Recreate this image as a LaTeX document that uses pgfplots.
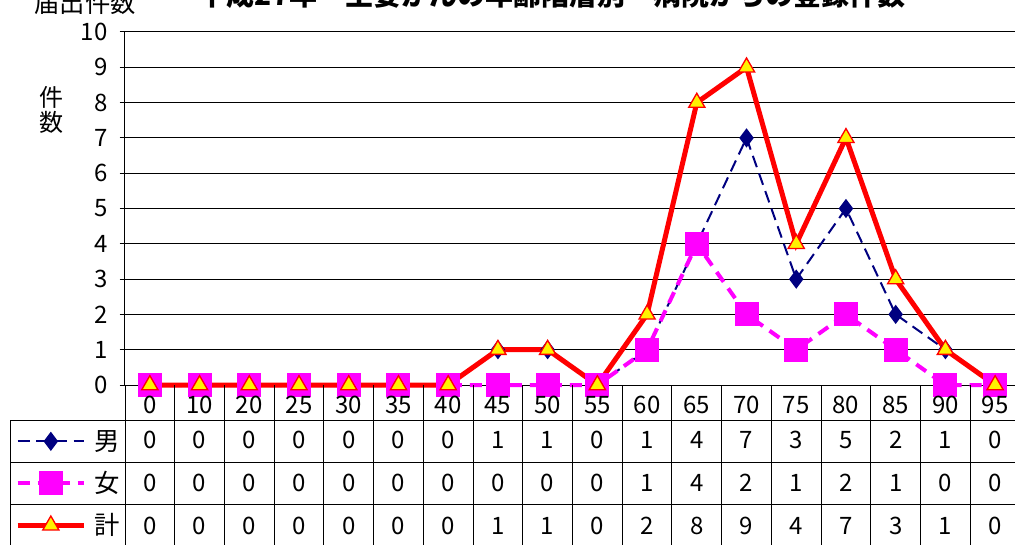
\documentclass[border=0pt]{standalone}
\usepackage{fontspec}
\usepackage{pgfplots}
\pgfplotsset{compat=1.18}
\usepackage{pgfplotstable}
\setmainfont{Noto Sans CJK JP}
\definecolor{navy}{RGB}{0,0,128}
\definecolor{mag}{RGB}{255,0,255}

\pgfplotstableread{
x lab m f t
0 0 0 0 0
1 10 0 0 0
2 20 0 0 0
3 25 0 0 0
4 30 0 0 0
5 35 0 0 0
6 40 0 0 0
7 45 1 0 1
8 50 1 0 1
9 55 0 0 0
10 60 1 1 2
11 65 4 4 8
12 70 7 2 9
13 75 3 1 4
14 80 5 2 7
15 85 2 1 3
16 90 1 0 1
17 95 0 0 0
}\data

\begin{document}
\begin{tikzpicture}
\useasboundingbox (0,0) rectangle (761.25pt,408pt);
\begin{axis}[
  at={(93.75pt,119.25pt)}, anchor=south west,
  scale only axis, width=671.25pt, height=264.75pt,
  xmin=-0.5, xmax=17.5, ymin=0, ymax=10,
  xtick=\empty, ytick={0,...,10},
  ymajorgrids, grid style={black, line width=0.75pt},
  axis line style={black, line width=0.75pt},
  tick align=outside, major tick length=4pt,
  ytick style={black, line width=0.75pt},
  yticklabel style={font=\fontsize{18}{20}\selectfont, inner sep=0pt, xshift=-9pt},
  /pgf/number format/assume math mode=true,
  clip=false,
  legend style={at={(-0.1229,-0.0992)}, anchor=north west, draw=none, fill=none,
    inner sep=0pt, outer sep=0pt, row sep=0pt, column sep=6pt,
    font=\fontsize{19}{20}\selectfont,
    nodes={inner sep=0pt, text height=22.5pt, text depth=9pt, anchor=base}},
  legend image code/.code={\draw[mark repeat=2, mark phase=2, #1] plot coordinates {(0pt,6.5pt) (25pt,6.5pt) (50pt,6.5pt)};},
  every node near coord/.style={anchor=center, inner sep=0pt, text height=13pt, text depth=0pt, font=\fontsize{18}{20}\selectfont, color=black},
]
\addplot[color=navy, line width=1.5pt, dash pattern=on 9pt off 5pt, mark=diamond*, mark size=6pt, mark options={solid, fill=navy}] table[x=x,y=m]{\data};
\addlegendentry{男}
\addplot[color=mag, line width=3pt, dash pattern=on 9pt off 6pt, mark=square*, mark size=7.5pt, mark options={solid, fill=mag}] table[x=x,y=f]{\data};
\addlegendentry{女}
\addplot[color=red, line width=3.75pt, mark=triangle*, mark size=7pt, mark options={solid, fill=yellow, draw=red, line width=1pt}] table[x=x,y=t]{\data};
\addlegendentry{計}
\addplot[draw=none, forget plot, nodes near coords={\pgfplotspointmeta}, point meta=explicit symbolic] table[x=x, y expr=-0.567, meta=lab]{\data};
\addplot[draw=none, forget plot, nodes near coords={\pgfplotspointmeta}, point meta=explicit symbolic] table[x=x, y expr=-1.558, meta=m]{\data};
\addplot[draw=none, forget plot, nodes near coords={\pgfplotspointmeta}, point meta=explicit symbolic] table[x=x, y expr=-2.776, meta=f]{\data};
\addplot[draw=none, forget plot, nodes near coords={\pgfplotspointmeta}, point meta=explicit symbolic] table[x=x, y expr=-3.994, meta=t]{\data};
\end{axis}
\foreach \i in {0,...,18} \draw[black, line width=0.75pt] ({93.75pt+\i*37.2917pt},119.25pt) -- ++(0,-125pt);
\draw[black, line width=0.75pt] (7.5pt,93pt) -- (770pt,93pt);
\draw[black, line width=0.75pt] (7.5pt,61.5pt) -- (770pt,61.5pt);
\draw[black, line width=0.75pt] (7.5pt,30pt) -- (770pt,30pt);
\draw[black, line width=0.75pt] (7.5pt,93pt) -- (7.5pt,-5pt);
\node[anchor=base, font=\fontsize{21}{24}\selectfont\bfseries] at (414pt,404pt) {平成27年　主要がんの年齢階層別・病院からの登録件数};
\node[anchor=base, font=\fontsize{19}{20}\selectfont] at (64pt,398.5pt) {届出件数};
\node[align=center, font=\fontsize{18}{19}\selectfont, inner sep=0pt] at (39pt,325.5pt) {件\\数};
\end{tikzpicture}
\end{document}
